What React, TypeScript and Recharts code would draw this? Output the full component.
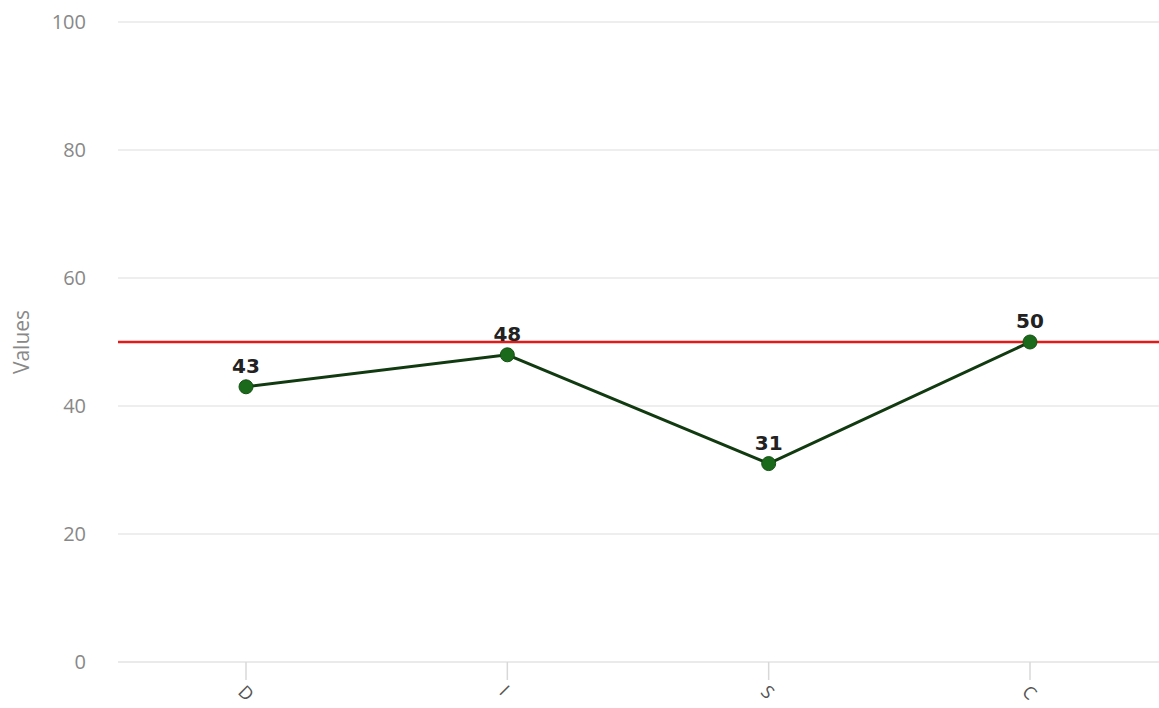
import {
  LineChart,
  Line,
  XAxis,
  YAxis,
  CartesianGrid,
  ReferenceLine,
  LabelList,
} from "recharts";

// DISC profile scores
const CATEGORIES = ["D", "I", "S", "C"];
const SCORES = [43, 48, 31, 50];
const Y_TICKS = [0, 20, 40, 60, 80, 100];
const THRESHOLD = 50;

const data = CATEGORIES.map((name, i) => ({ name, value: SCORES[i] }));

const FONT = "Open Sans, sans-serif";

const App = () => {
  return (
    <div style={{ position: "absolute", left: 0, top: 0, background: "#fff" }}>
      <LineChart
        width={1159}
        height={708}
        data={data}
        margin={{ top: 22, right: 0, left: 0, bottom: 0 }}
      >
        <CartesianGrid vertical={false} stroke="#e8e8e8" strokeWidth={1.5} />
        <XAxis
          dataKey="name"
          padding={{ left: 128, right: 129 }}
          axisLine={{ stroke: "#e8e8e8", strokeWidth: 1.5 }}
          tickLine={{ stroke: "#d8d8d8", strokeWidth: 1.5 }}
          tickSize={18}
          tickMargin={4}
          height={46}
          interval={0}
          tick={{
            angle: 45,
            textAnchor: "start",
            fontSize: 18,
            fill: "#555",
            fontFamily: FONT,
          }}
        />
        <YAxis
          domain={[0, 100]}
          ticks={Y_TICKS}
          width={118}
          axisLine={false}
          tickLine={false}
          tickSize={0}
          tickMargin={32}
          tick={{ fontSize: 20, fill: "#888", fontFamily: FONT }}
          label={{
            value: "Values",
            angle: -90,
            position: "insideLeft",
            offset: 22,
            fontSize: 21,
            fill: "#888",
            fontFamily: FONT,
            style: { textAnchor: "middle" },
          }}
        />
        <ReferenceLine y={THRESHOLD} stroke="#e41a1a" strokeWidth={2.5} />
        <Line
          type="linear"
          dataKey="value"
          stroke="#113a11"
          strokeWidth={3}
          dot={{ r: 7, fill: "#1b6a1b", stroke: "#145214", strokeWidth: 1 }}
          isAnimationActive={false}
        >
          <LabelList
            dataKey="value"
            position="top"
            offset={14}
            fontSize={20}
            fontWeight={700}
            fill="#222"
            fontFamily="Verdana, DejaVu Sans, sans-serif"
          />
        </Line>
      </LineChart>
    </div>
  );
};

export default App;
